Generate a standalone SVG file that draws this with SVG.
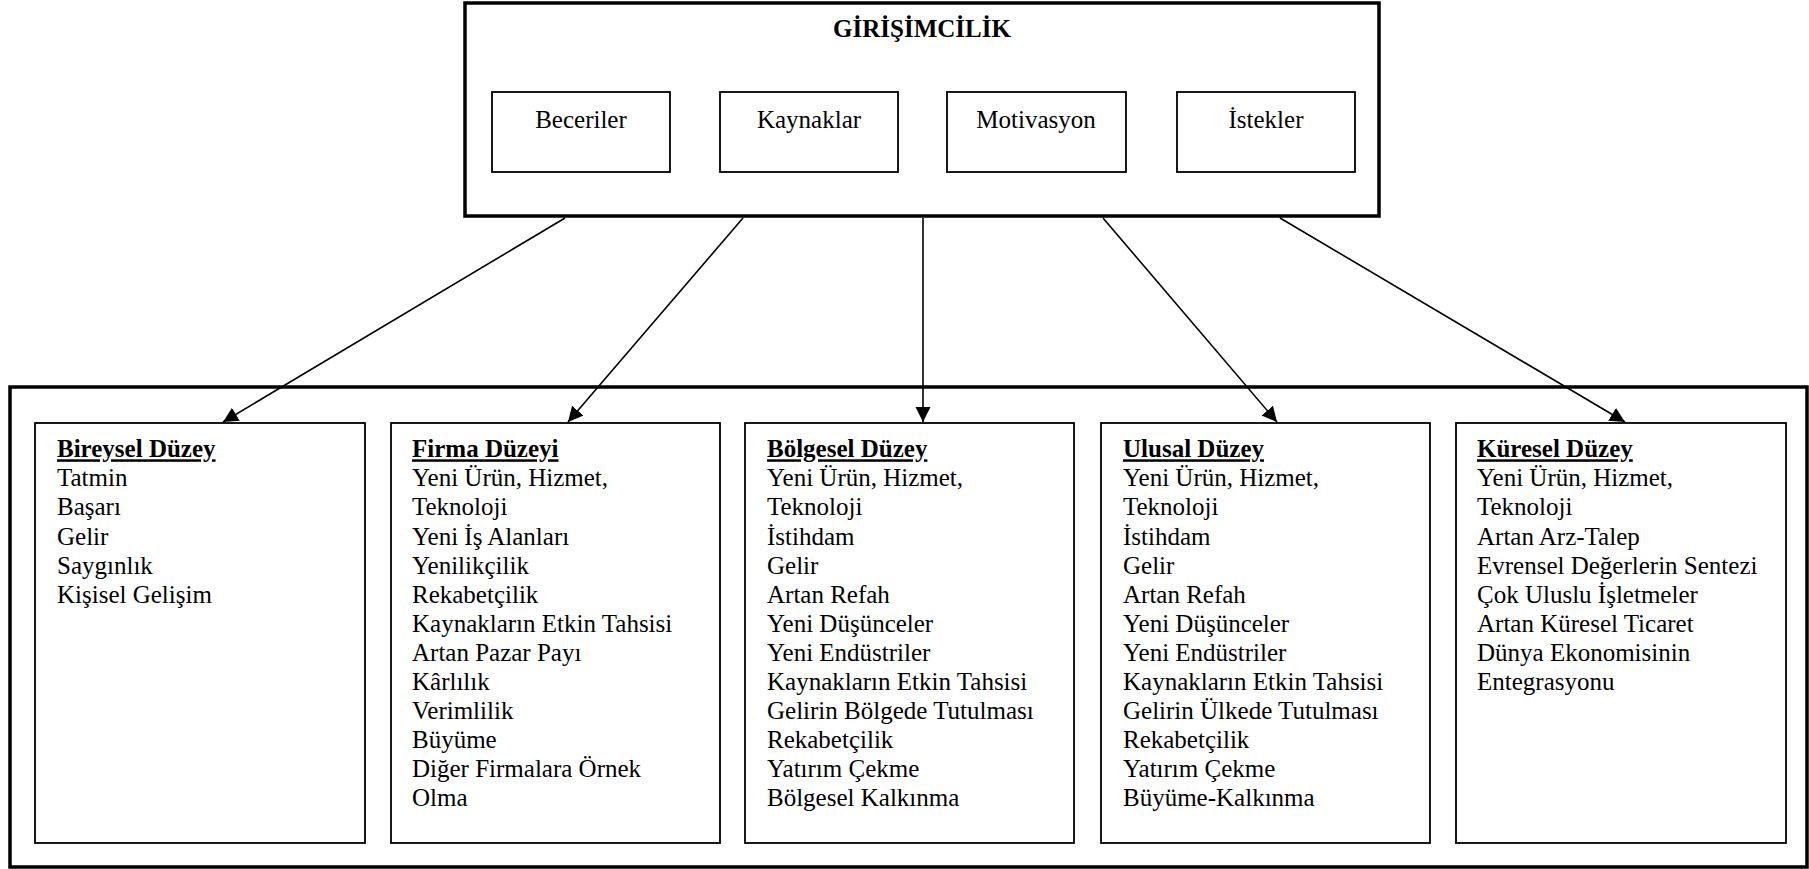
<svg xmlns="http://www.w3.org/2000/svg" width="1809" height="869" viewBox="0 0 1809 869">
  <style>
    .frame { fill: #fff; stroke: #000; stroke-width: 3.5; }
    .box { fill: #fff; stroke: #000; stroke-width: 1.8; }
    .t { font-family: "Liberation Serif", "Times New Roman", serif; font-size: 25px; fill: #000; }
    .c { text-anchor: middle; }
    .b { font-weight: bold; }
    .h { font-weight: bold; text-decoration: underline; }
    .link { stroke: #000; stroke-width: 1.6; fill: none; marker-end: url(#arrow); }
  </style>
  <defs>
    <marker id="arrow" markerWidth="16" markerHeight="16" refX="15" refY="7.5" orient="auto" markerUnits="userSpaceOnUse">
      <path d="M0,0 L15,7.5 L0,15 Z" fill="#000"/>
    </marker>
  </defs>
  <rect width="1809" height="869" fill="#fff"/>

  <!-- Top: entrepreneurship and its four elements -->
  <g id="girisimcilik">
    <rect class="frame" x="465" y="3" width="914" height="213"/>
    <text class="t b c" x="922" y="37">GİRİŞİMCİLİK</text>
  </g>
  <g id="beceriler">
    <rect class="box" x="492" y="92" width="178" height="80"/>
    <text class="t c" x="581" y="128">Beceriler</text>
  </g>
  <g id="kaynaklar">
    <rect class="box" x="720" y="92" width="178" height="80"/>
    <text class="t c" x="809" y="128">Kaynaklar</text>
  </g>
  <g id="motivasyon">
    <rect class="box" x="947" y="92" width="179" height="80"/>
    <text class="t c" x="1036" y="128">Motivasyon</text>
  </g>
  <g id="istekler">
    <rect class="box" x="1177" y="92" width="178" height="80"/>
    <text class="t c" x="1266" y="128">İstekler</text>
  </g>

  <!-- Bottom: outcome levels -->
  <g id="duzeyler">
    <rect class="frame" x="10" y="387" width="1797" height="480"/>
  </g>

  <g id="bireysel">
    <rect class="box" x="35" y="423" width="330" height="420"/>
    <text class="t" x="57" y="457.3">
      <tspan class="h">Bireysel Düzey</tspan>
      <tspan x="57" dy="29.07">Tatmin</tspan>
      <tspan x="57" dy="29.07">Başarı</tspan>
      <tspan x="57" dy="29.07">Gelir</tspan>
      <tspan x="57" dy="29.07">Saygınlık</tspan>
      <tspan x="57" dy="29.07">Kişisel Gelişim</tspan>
    </text>
  </g>

  <g id="firma">
    <rect class="box" x="391" y="423" width="329" height="420"/>
    <text class="t" x="412" y="457.3">
      <tspan class="h">Firma Düzeyi</tspan>
      <tspan x="412" dy="29.07">Yeni Ürün, Hizmet,</tspan>
      <tspan x="412" dy="29.07">Teknoloji</tspan>
      <tspan x="412" dy="29.07">Yeni İş Alanları</tspan>
      <tspan x="412" dy="29.07">Yenilikçilik</tspan>
      <tspan x="412" dy="29.07">Rekabetçilik</tspan>
      <tspan x="412" dy="29.07">Kaynakların Etkin Tahsisi</tspan>
      <tspan x="412" dy="29.07">Artan Pazar Payı</tspan>
      <tspan x="412" dy="29.07">Kârlılık</tspan>
      <tspan x="412" dy="29.07">Verimlilik</tspan>
      <tspan x="412" dy="29.07">Büyüme</tspan>
      <tspan x="412" dy="29.07">Diğer Firmalara Örnek</tspan>
      <tspan x="412" dy="29.07">Olma</tspan>
    </text>
  </g>

  <g id="bolgesel">
    <rect class="box" x="745" y="423" width="329" height="420"/>
    <text class="t" x="767" y="457.3">
      <tspan class="h">Bölgesel Düzey</tspan>
      <tspan x="767" dy="29.07">Yeni Ürün, Hizmet,</tspan>
      <tspan x="767" dy="29.07">Teknoloji</tspan>
      <tspan x="767" dy="29.07">İstihdam</tspan>
      <tspan x="767" dy="29.07">Gelir</tspan>
      <tspan x="767" dy="29.07">Artan Refah</tspan>
      <tspan x="767" dy="29.07">Yeni Düşünceler</tspan>
      <tspan x="767" dy="29.07">Yeni Endüstriler</tspan>
      <tspan x="767" dy="29.07">Kaynakların Etkin Tahsisi</tspan>
      <tspan x="767" dy="29.07">Gelirin Bölgede Tutulması</tspan>
      <tspan x="767" dy="29.07">Rekabetçilik</tspan>
      <tspan x="767" dy="29.07">Yatırım Çekme</tspan>
      <tspan x="767" dy="29.07">Bölgesel Kalkınma</tspan>
    </text>
  </g>

  <g id="ulusal">
    <rect class="box" x="1101" y="423" width="329" height="420"/>
    <text class="t" x="1123" y="457.3">
      <tspan class="h">Ulusal Düzey</tspan>
      <tspan x="1123" dy="29.07">Yeni Ürün, Hizmet,</tspan>
      <tspan x="1123" dy="29.07">Teknoloji</tspan>
      <tspan x="1123" dy="29.07">İstihdam</tspan>
      <tspan x="1123" dy="29.07">Gelir</tspan>
      <tspan x="1123" dy="29.07">Artan Refah</tspan>
      <tspan x="1123" dy="29.07">Yeni Düşünceler</tspan>
      <tspan x="1123" dy="29.07">Yeni Endüstriler</tspan>
      <tspan x="1123" dy="29.07">Kaynakların Etkin Tahsisi</tspan>
      <tspan x="1123" dy="29.07">Gelirin Ülkede Tutulması</tspan>
      <tspan x="1123" dy="29.07">Rekabetçilik</tspan>
      <tspan x="1123" dy="29.07">Yatırım Çekme</tspan>
      <tspan x="1123" dy="29.07">Büyüme-Kalkınma</tspan>
    </text>
  </g>

  <g id="kuresel">
    <rect class="box" x="1456" y="423" width="330" height="420"/>
    <text class="t" x="1477" y="457.3">
      <tspan class="h">Küresel Düzey</tspan>
      <tspan x="1477" dy="29.07">Yeni Ürün, Hizmet,</tspan>
      <tspan x="1477" dy="29.07">Teknoloji</tspan>
      <tspan x="1477" dy="29.07">Artan Arz-Talep</tspan>
      <tspan x="1477" dy="29.07">Evrensel Değerlerin Sentezi</tspan>
      <tspan x="1477" dy="29.07">Çok Uluslu İşletmeler</tspan>
      <tspan x="1477" dy="29.07">Artan Küresel Ticaret</tspan>
      <tspan x="1477" dy="29.07">Dünya Ekonomisinin</tspan>
      <tspan x="1477" dy="29.07">Entegrasyonu</tspan>
    </text>
  </g>

  <!-- Connectors from the top frame to each level -->
  <g id="connectors">
    <line class="link" x1="565" y1="218" x2="223" y2="422"/>
    <line class="link" x1="743" y1="218" x2="568" y2="422"/>
    <line class="link" x1="923" y1="218" x2="923" y2="422"/>
    <line class="link" x1="1103" y1="218" x2="1277" y2="422"/>
    <line class="link" x1="1280" y1="218" x2="1625" y2="422"/>
  </g>
</svg>
